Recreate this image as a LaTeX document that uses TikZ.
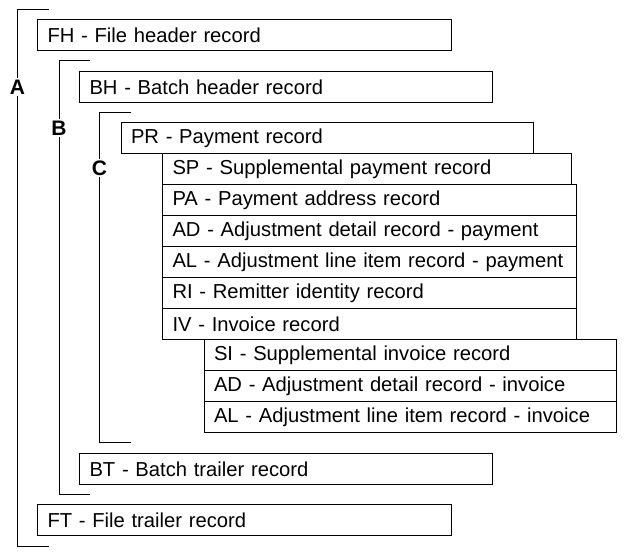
\documentclass[tikz,border=0pt]{standalone}
\usepackage{fontspec}
\setmainfont{Liberation Sans}
\begin{document}
\begin{tikzpicture}[x=1pt, y=-1pt, line width=1pt,
    rec/.style={draw, anchor=north west, inner xsep=10pt, inner ysep=0pt,
      minimum height=31pt, align=left, font=\fontsize{20.2}{24}\selectfont},
    lvl/.style={fill=white, inner sep=1.5pt, font=\fontsize{21}{24}\selectfont\bfseries}]
    \useasboundingbox (0,0) rectangle (629,556);

    % file level
    \node[rec, text width=394pt] (fh) at (37,19) {FH - File header record};
    \node[rec, text width=394pt] (ft) at (37,504) {FT - File trailer record};

    % batch level
    \node[rec, text width=393pt] (bh) at (79,71) {BH - Batch header record};
    \node[rec, text width=393pt] (bt) at (79,453) {BT - Batch trailer record};

    % payment level
    \node[rec, text width=392.5pt] (pr) at (120.5,122) {PR - Payment record};
    \node[rec, text width=388.5pt] (sp) at (162,153) {SP - Supplemental payment record};
    \node[rec, text width=393.5pt] (pa) at (162,184) {PA - Payment address record};
    \node[rec, text width=393.5pt] (adp) at (162,215) {AD - Adjustment detail record - payment};
    \node[rec, text width=393.5pt] (alp) at (162,246) {AL - Adjustment line item record - payment};
    \node[rec, text width=393.5pt] (ri) at (162,277) {RI - Remitter identity record};
    \node[rec, text width=393.5pt] (iv) at (162,308) {IV - Invoice record};

    % invoice level
    \node[rec, text width=392.5pt] (si) at (203.5,339) {SI - Supplemental invoice record};
    \node[rec, text width=392.5pt] (adi) at (203.5,370) {AD - Adjustment detail record - invoice};
    \node[rec, text width=392.5pt] (ali) at (203.5,401) {AL - Adjustment line item record - invoice};

    % bracket A
    \draw (49,10) -- (17.5,10) -- (17.5,546) -- (49,546);
    \node[lvl] (la) at (17.5,87) {A};

    % bracket B
    \draw (90,60.5) -- (59,60.5) -- (59,494) -- (90,494);
    \node[lvl] (lb) at (59,128) {B};

    % bracket C
    \draw (131,113) -- (99.5,113) -- (99.5,442) -- (131,442);
    \node[lvl] (lc) at (99.5,168) {C};
\end{tikzpicture}
\end{document}
